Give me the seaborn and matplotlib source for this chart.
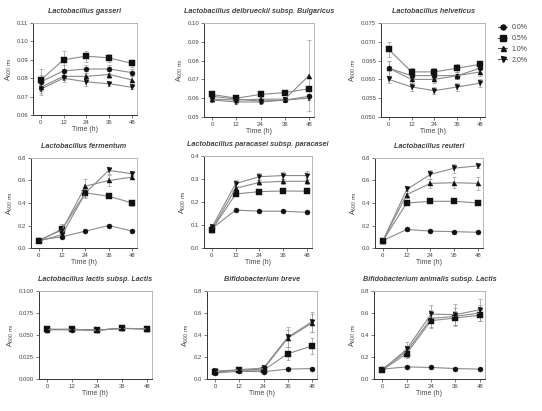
import numpy as np
import pandas as pd
import matplotlib
matplotlib.use('Agg')
import matplotlib.pyplot as plt
from matplotlib.lines import Line2D
import seaborn as sns

# time points and concentrations
times = [0, 12, 24, 36, 48]
concs = ['0.0%', '0.5%', '1.0%', '2.0%']

# A600 values (one list per concentration)
gasseri = {'0.0%': [0.078, 0.084, 0.085, 0.085, 0.083],
           '0.5%': [0.079, 0.090, 0.092, 0.091, 0.088],
           '1.0%': [0.075, 0.081, 0.081, 0.082, 0.079],
           '2.0%': [0.074, 0.080, 0.078, 0.077, 0.075]}
gasseri_err = {'0.0%': [0.004, 0.003, 0.002, 0.002, 0.002],
               '0.5%': [0.006, 0.005, 0.003, 0.002, 0.002],
               '1.0%': [0.003, 0.002, 0.002, 0.002, 0.002],
               '2.0%': [0.003, 0.002, 0.002, 0.001, 0.001]}

delbrueckii = {'0.0%': [0.061, 0.0595, 0.0585, 0.059, 0.061],
               '0.5%': [0.062, 0.060, 0.062, 0.063, 0.065],
               '1.0%': [0.0595, 0.059, 0.0595, 0.0595, 0.072],
               '2.0%': [0.059, 0.058, 0.058, 0.059, 0.060]}
delbrueckii_err = {'0.0%': [0.001, 0.001, 0.001, 0.001, 0.001],
                   '0.5%': [0.001, 0.001, 0.001, 0.001, 0.001],
                   '1.0%': [0.001, 0.001, 0.001, 0.001, 0.019],
                   '2.0%': [0.001, 0.001, 0.001, 0.001, 0.001]}

helveticus = {'0.0%': [0.063, 0.061, 0.061, 0.061, 0.063],
              '0.5%': [0.068, 0.062, 0.062, 0.063, 0.064],
              '1.0%': [0.063, 0.060, 0.060, 0.061, 0.062],
              '2.0%': [0.060, 0.058, 0.057, 0.058, 0.059]}
helveticus_err = {'0.0%': [0.002, 0.001, 0.001, 0.001, 0.001],
                  '0.5%': [0.002, 0.001, 0.001, 0.001, 0.001],
                  '1.0%': [0.002, 0.001, 0.001, 0.001, 0.001],
                  '2.0%': [0.001, 0.001, 0.001, 0.001, 0.001]}

fermentum = {'0.0%': [0.07, 0.10, 0.15, 0.20, 0.15],
             '0.5%': [0.06, 0.17, 0.49, 0.46, 0.40],
             '1.0%': [0.07, 0.16, 0.55, 0.60, 0.63],
             '2.0%': [0.06, 0.12, 0.49, 0.69, 0.66]}
fermentum_err = {'0.0%': [0.01, 0.01, 0.01, 0.01, 0.01],
                 '0.5%': [0.01, 0.04, 0.04, 0.02, 0.03],
                 '1.0%': [0.01, 0.05, 0.06, 0.05, 0.02],
                 '2.0%': [0.01, 0.03, 0.05, 0.03, 0.02]}

paracasei = {'0.0%': [0.085, 0.165, 0.160, 0.160, 0.155],
             '0.5%': [0.080, 0.235, 0.245, 0.248, 0.247],
             '1.0%': [0.080, 0.260, 0.285, 0.290, 0.290],
             '2.0%': [0.090, 0.280, 0.310, 0.315, 0.315]}
paracasei_err = {'0.0%': [0.005, 0.005, 0.004, 0.004, 0.004],
                 '0.5%': [0.005, 0.006, 0.006, 0.006, 0.008],
                 '1.0%': [0.005, 0.010, 0.010, 0.010, 0.010],
                 '2.0%': [0.005, 0.015, 0.015, 0.015, 0.020]}

reuteri = {'0.0%': [0.065, 0.165, 0.150, 0.145, 0.140],
           '0.5%': [0.065, 0.400, 0.415, 0.415, 0.400],
           '1.0%': [0.065, 0.475, 0.575, 0.580, 0.575],
           '2.0%': [0.065, 0.520, 0.655, 0.710, 0.730]}
reuteri_err = {'0.0%': [0.005, 0.01, 0.01, 0.01, 0.01],
               '0.5%': [0.005, 0.01, 0.01, 0.01, 0.01],
               '1.0%': [0.005, 0.03, 0.04, 0.05, 0.06],
               '2.0%': [0.005, 0.03, 0.04, 0.04, 0.02]}

lactis = {'0.0%': [0.056, 0.056, 0.0555, 0.0575, 0.057],
          '0.5%': [0.0565, 0.0565, 0.0555, 0.0575, 0.057],
          '1.0%': [0.056, 0.0565, 0.0555, 0.0575, 0.057],
          '2.0%': [0.0565, 0.056, 0.0555, 0.0575, 0.057]}
lactis_err = {c: [0.001] * 5 for c in concs}

breve = {'0.0%': [0.055, 0.07, 0.066, 0.09, 0.095],
         '0.5%': [0.06, 0.08, 0.08, 0.23, 0.30],
         '1.0%': [0.07, 0.08, 0.09, 0.37, 0.51],
         '2.0%': [0.07, 0.085, 0.10, 0.38, 0.52]}
breve_err = {'0.0%': [0.01, 0.01, 0.01, 0.01, 0.01],
             '0.5%': [0.02, 0.01, 0.02, 0.06, 0.07],
             '1.0%': [0.02, 0.01, 0.02, 0.08, 0.08],
             '2.0%': [0.02, 0.01, 0.02, 0.09, 0.09]}

animalis = {'0.0%': [0.09, 0.11, 0.105, 0.095, 0.09],
            '0.5%': [0.08, 0.23, 0.53, 0.555, 0.58],
            '1.0%': [0.09, 0.25, 0.55, 0.57, 0.60],
            '2.0%': [0.08, 0.27, 0.59, 0.585, 0.63]}
animalis_err = {'0.0%': [0.01, 0.01, 0.01, 0.01, 0.01],
                '0.5%': [0.01, 0.04, 0.07, 0.06, 0.05],
                '1.0%': [0.01, 0.05, 0.08, 0.08, 0.07],
                '2.0%': [0.01, 0.07, 0.08, 0.10, 0.10]}

titles = ['Lactobacillus gasseri', 'Lactobacillus delbrueckii subsp. Bulgaricus',
          'Lactobacillus helveticus', 'Lactobacillus fermentum',
          'Lactobacillus paracasei subsp. paracasei', 'Lactobacillus reuteri',
          'Lactobacillus lactis subsp. Lactis', 'Bifidobacterium breve',
          'Bifidobacterium animalis subsp. Lactis']
values = [gasseri, delbrueckii, helveticus, fermentum, paracasei, reuteri,
          lactis, breve, animalis]
errors = [gasseri_err, delbrueckii_err, helveticus_err, fermentum_err, paracasei_err,
          reuteri_err, lactis_err, breve_err, animalis_err]
yticks = [[0.06, 0.07, 0.08, 0.09, 0.10, 0.11],
          [0.05, 0.06, 0.07, 0.08, 0.09, 0.10],
          [0.050, 0.055, 0.060, 0.065, 0.070, 0.075],
          [0.0, 0.2, 0.4, 0.6, 0.8],
          [0.0, 0.1, 0.2, 0.3, 0.4],
          [0.0, 0.2, 0.4, 0.6, 0.8],
          [0.000, 0.025, 0.050, 0.075, 0.100],
          [0.0, 0.2, 0.4, 0.6, 0.8],
          [0.0, 0.2, 0.4, 0.6, 0.8]]
yfmt = ['%.2f', '%.2f', '%.3f', '%.1f', '%.1f', '%.1f', '%.3f', '%.1f', '%.1f']

# axes boxes in pixels: left, top, right, bottom
boxes = [(33, 23, 137, 115), (204, 23, 314, 117), (381, 23, 485, 117),
         (31, 158, 137, 248), (204, 156, 312, 248), (375, 158, 483, 248),
         (39, 291, 152, 379), (207, 291, 317, 379), (374, 291, 485, 379)]

W, H = 542, 411
sns.set_theme(style='ticks')
plt.rcParams['font.family'] = ['Liberation Sans', 'DejaVu Sans']
fig = plt.figure(figsize=(W / 100, H / 100), dpi=100)

markers = {'0.0%': 'o', '0.5%': 's', '1.0%': '^', '2.0%': 'v'}
msizes = {'0.0%': 3.6, '0.5%': 3.9, '1.0%': 3.6, '2.0%': 3.6}
line_col = '#8a8a8a'
text_col = '#444444'

for i in range(9):
    l, t, r, b = boxes[i]
    ax = fig.add_axes([l / W, 1 - b / H, (r - l) / W, (b - t) / H])
    rows = []
    for c in concs:
        for tm, v, e in zip(times, values[i][c], errors[i][c]):
            rows.append({'time': tm, 'A600': v, 'err': e, 'conc': c})
    df = pd.DataFrame(rows)
    for c in concs:
        d = df[df.conc == c]
        ax.errorbar(d['time'], d['A600'], yerr=d['err'], fmt='none',
                    ecolor='#9a9a9a', elinewidth=0.5, capsize=1.5, capthick=0.5, zorder=2)
        sns.lineplot(data=d, x='time', y='A600', ax=ax, color=line_col, lw=0.8,
                     marker=markers[c], ms=msizes[c], mfc='#111111', mec='#111111',
                     mew=0.3, zorder=3, legend=False)
    ax.set_xlim(-4, 50.5)
    ax.set_ylim(yticks[i][0], yticks[i][-1])
    ax.set_xticks(times)
    ax.set_yticks(yticks[i])
    ax.set_yticklabels([yfmt[i] % v for v in yticks[i]])
    ax.tick_params(labelsize=4.3, length=2, width=0.5, pad=1.5, colors=text_col)
    for s in ['left', 'bottom']:
        ax.spines[s].set_color('#333333')
        ax.spines[s].set_linewidth(0.7)
    for s in ['top', 'right']:
        ax.spines[s].set_visible(True)
        ax.spines[s].set_color('#b5b5b5')
        ax.spines[s].set_linewidth(0.7)
    ax.set_title(titles[i], fontsize=5.2, fontstyle='italic', fontweight='bold',
                 color=text_col, pad=7)
    ax.set_xlabel('Time (h)', fontsize=5, color=text_col, labelpad=1)
    ax.set_ylabel(r'A$_{\mathregular{600\ nm}}$', fontsize=5.2, color=text_col, labelpad=2)

handles = [Line2D([0], [0], color='#555555', lw=0.8, marker=markers[c], ms=msizes[c],
                  mfc='#111111', mec='#111111') for c in concs]
fig.legend(handles, concs, loc='upper left', bbox_to_anchor=(492 / W, 1 - 18 / H),
           frameon=False, fontsize=5, handlelength=1.3, labelspacing=0.55,
           handletextpad=0.6, labelcolor=text_col)

fig.savefig('out.png', dpi=100, facecolor='white')
